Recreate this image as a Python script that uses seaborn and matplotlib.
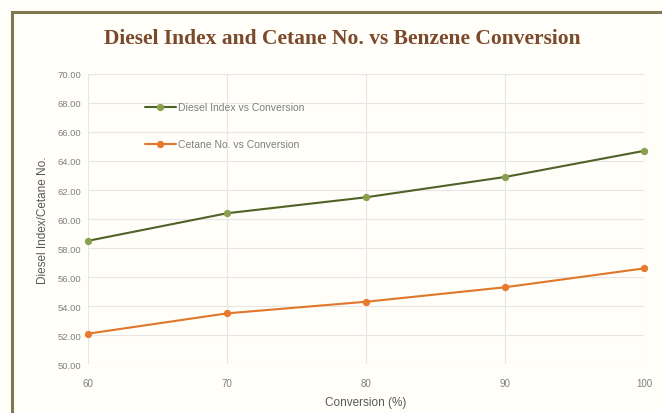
import matplotlib
matplotlib.use("Agg")
import matplotlib.pyplot as plt
import seaborn as sns
import pandas as pd
from matplotlib.patches import Rectangle

conversion = [60, 70, 80, 90, 100]
diesel_index = [58.5, 60.4, 61.5, 62.9, 64.7]
cetane_no = [52.1, 53.5, 54.3, 55.3, 56.6]
y_ticks = [50, 52, 54, 56, 58, 60, 62, 64, 66, 68, 70]
x_ticks = [60, 70, 80, 90, 100]

sns.set_theme(style="whitegrid")
plt.rcParams['font.family'] = ['Liberation Sans', 'DejaVu Sans']

fig = plt.figure(figsize=(6.62, 4.14), dpi=100)
fig.patch.set_facecolor("#fffef9")
ax = fig.add_axes([0.133, 0.118, 0.840, 0.701])
ax.set_facecolor("#fffef9")

df1 = pd.DataFrame({"Conversion": conversion, "Value": diesel_index})
df2 = pd.DataFrame({"Conversion": conversion, "Value": cetane_no})

sns.lineplot(data=df1, x="Conversion", y="Value", ax=ax, color="#4f6228",
             marker="o", markersize=4.5, markerfacecolor="#8aa04f",
             markeredgecolor="#8aa04f", linewidth=1.5,
             label="Diesel Index vs Conversion", clip_on=False)
sns.lineplot(data=df2, x="Conversion", y="Value", ax=ax, color="#e0772a",
             marker="o", markersize=4.5, markerfacecolor="#e87a30",
             markeredgecolor="#e87a30", linewidth=1.5,
             label="Cetane No. vs Conversion", clip_on=False)

ax.set_xlim(60, 100)
ax.set_ylim(50, 70)
ax.set_yticks(y_ticks)
ax.set_yticklabels([f"{v:.2f}" for v in y_ticks])
ax.set_xticks(x_ticks)
ax.set_xticklabels([str(v) for v in x_ticks])
ax.grid(True, color="#e6e6e6", linewidth=0.8)
for s in ax.spines.values():
    s.set_visible(False)
ax.tick_params(axis="y", labelsize=6.8, colors="#7f7f7f", length=0, pad=5)
ax.tick_params(axis="x", labelsize=7, colors="#7f7f7f", length=0, pad=10)
ax.set_xlabel("Conversion (%)", fontsize=8.5, color="#595959", labelpad=6)
ax.set_ylabel("Diesel Index/Cetane No.", fontsize=8.5, color="#595959", labelpad=6)

leg = ax.legend(loc="upper left", bbox_to_anchor=(0.085, 0.935), frameon=False,
                fontsize=7.5, labelspacing=2.6, handlelength=3.0, handletextpad=0.2)
for t in leg.get_texts():
    t.set_color("#7f7f7f")

fig.text(0.517, 0.905, "Diesel Index and Cetane No. vs Benzene Conversion",
         ha="center", va="center", fontsize=15.5, fontweight="bold",
         color="#7b4a2c", family=["Liberation Serif", "DejaVu Serif"])

fig.add_artist(Rectangle((0.018, -0.1), 1.2, 1.0 - 0.031 + 0.1,
                         transform=fig.transFigure, fill=False,
                         edgecolor="#7d7850", linewidth=2.2))

fig.savefig("out.png", dpi=100, facecolor=fig.get_facecolor())
